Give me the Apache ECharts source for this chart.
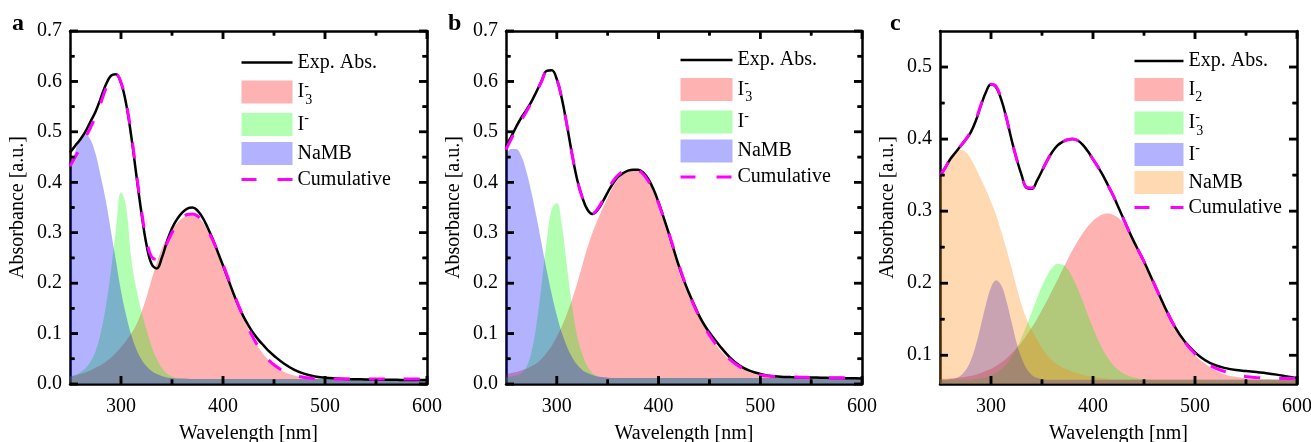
<!DOCTYPE html>
<html><head><meta charset="utf-8">
<script src="https://cdn.jsdelivr.net/npm/echarts@6/dist/echarts.min.js"></script>
<style>html,body{margin:0;padding:0;background:#fff}#chart{width:1311px;height:442px}</style>
</head><body><div id="chart"></div>
<script>
// ---------- data ----------
const wavelengths = [250,255,260,265,270,275,280,285,290,295,300,305,310,315,320,325,330,335,340,345,350,355,360,365,370,375,380,385,390,395,400,405,410,415,420,425,430,435,440,445,450,460,470,480,490,500,510,520,530,540,550,560,570,580,590,600];
const xTicks = [300,400,500,600];
const xMinorTicks = [350,450,550];
const yTicksAB = [0,0.1,0.2,0.3,0.4,0.5,0.6,0.7];
const yMinorTicksAB = [0.05,0.15,0.25,0.35,0.45,0.55,0.65];
const yTicksC = [0.1,0.2,0.3,0.4,0.5];
const yMinorTicksC = [0.15,0.25,0.35,0.45];
const panelLetters = ['a','b','c'];

// panel a
const aExp = [0.459,0.472,0.485,0.500,0.520,0.540,0.566,0.593,0.611,0.614,0.597,0.556,0.492,0.415,0.340,0.276,0.238,0.229,0.250,0.282,0.309,0.327,0.340,0.348,0.350,0.344,0.330,0.310,0.287,0.261,0.235,0.208,0.181,0.156,0.134,0.116,0.100,0.087,0.076,0.065,0.056,0.040,0.028,0.020,0.015,0.0125,0.011,0.010,0.0095,0.009,0.0088,0.0085,0.0083,0.008,0.008,0.008];
const aCum = [0.432,0.450,0.468,0.488,0.508,0.530,0.556,0.585,0.607,0.614,0.598,0.558,0.497,0.420,0.345,0.285,0.252,0.247,0.258,0.279,0.300,0.317,0.329,0.336,0.337,0.333,0.322,0.305,0.285,0.262,0.237,0.210,0.183,0.157,0.133,0.110,0.090,0.073,0.059,0.047,0.038,0.025,0.017,0.013,0.011,0.0105,0.010,0.010,0.010,0.010,0.010,0.010,0.010,0.010,0.010,0.010];
const aI3 = [0.015,0.017,0.020,0.023,0.027,0.032,0.037,0.044,0.052,0.062,0.073,0.086,0.100,0.118,0.142,0.172,0.207,0.240,0.268,0.290,0.307,0.319,0.328,0.334,0.336,0.332,0.321,0.304,0.284,0.261,0.236,0.209,0.182,0.156,0.132,0.109,0.089,0.072,0.058,0.046,0.037,0.024,0.017,0.013,0.011,0.0105,0.010,0.010,0.010,0.010,0.010,0.010,0.010,0.010,0.010,0.010];
const aI = [0.015,0.018,0.023,0.031,0.044,0.065,0.100,0.152,0.222,0.305,0.380,0.352,0.250,0.190,0.145,0.108,0.075,0.050,0.032,0.021,0.015,0.012,0.011,0.0105,0.010,0.010,0.010,0.010,0.010,0.010,0.010,0.010,0.010,0.010,0.010,0.010,0.010,0.010,0.010,0.010,0.010,0.010,0.010,0.010,0.010,0.010,0.010,0.010,0.010,0.010,0.010,0.010,0.010,0.010,0.010,0.010];
const aNaMB = [0.420,0.460,0.487,0.495,0.485,0.457,0.413,0.365,0.305,0.245,0.185,0.137,0.098,0.069,0.049,0.035,0.026,0.020,0.016,0.013,0.012,0.011,0.011,0.0105,0.010,0.010,0.010,0.010,0.010,0.010,0.010,0.010,0.010,0.010,0.010,0.010,0.010,0.010,0.010,0.010,0.010,0.010,0.010,0.010,0.010,0.010,0.010,0.010,0.010,0.010,0.010,0.010,0.010,0.010,0.010,0.010];

// panel b
const bExp = [0.472,0.490,0.510,0.528,0.543,0.560,0.580,0.601,0.621,0.622,0.604,0.565,0.512,0.455,0.405,0.370,0.346,0.337,0.345,0.361,0.380,0.397,0.410,0.418,0.423,0.425,0.425,0.419,0.406,0.386,0.360,0.330,0.299,0.266,0.234,0.205,0.180,0.157,0.135,0.117,0.102,0.076,0.053,0.036,0.026,0.020,0.016,0.0145,0.0138,0.0133,0.013,0.0125,0.012,0.0117,0.0113,0.011];
const bCum = [0.465,0.485,0.505,0.523,0.540,0.558,0.578,0.600,0.620,0.621,0.604,0.565,0.512,0.455,0.405,0.370,0.346,0.338,0.347,0.364,0.385,0.402,0.414,0.422,0.426,0.427,0.424,0.416,0.402,0.383,0.358,0.330,0.300,0.268,0.236,0.206,0.179,0.155,0.133,0.114,0.097,0.070,0.049,0.034,0.024,0.018,0.0155,0.0145,0.014,0.0135,0.013,0.013,0.0125,0.0122,0.012,0.012];
const bI3 = [0.020,0.022,0.024,0.027,0.030,0.035,0.041,0.050,0.062,0.076,0.094,0.115,0.140,0.168,0.200,0.235,0.270,0.300,0.325,0.348,0.370,0.390,0.405,0.416,0.423,0.426,0.423,0.414,0.400,0.381,0.357,0.329,0.299,0.267,0.235,0.205,0.178,0.154,0.132,0.113,0.096,0.069,0.048,0.033,0.023,0.018,0.015,0.0135,0.013,0.013,0.0125,0.0125,0.012,0.012,0.012,0.012];
const bI = [0.014,0.015,0.017,0.021,0.033,0.063,0.119,0.198,0.284,0.347,0.359,0.314,0.233,0.155,0.095,0.060,0.035,0.022,0.016,0.013,0.012,0.012,0.012,0.012,0.012,0.012,0.012,0.012,0.012,0.012,0.012,0.012,0.012,0.012,0.012,0.012,0.012,0.012,0.012,0.012,0.012,0.012,0.012,0.012,0.012,0.012,0.012,0.012,0.012,0.012,0.012,0.012,0.012,0.012,0.012,0.012];
const bNaMB = [0.455,0.466,0.466,0.452,0.422,0.380,0.331,0.278,0.226,0.178,0.136,0.101,0.074,0.053,0.038,0.028,0.022,0.018,0.015,0.014,0.013,0.012,0.012,0.012,0.012,0.012,0.012,0.012,0.012,0.012,0.012,0.012,0.012,0.012,0.012,0.012,0.012,0.012,0.012,0.012,0.012,0.012,0.012,0.012,0.012,0.012,0.012,0.012,0.012,0.012,0.012,0.012,0.012,0.012,0.012,0.012];

// panel c
const cExp = [0.349,0.360,0.372,0.381,0.390,0.399,0.409,0.425,0.446,0.465,0.476,0.472,0.455,0.430,0.400,0.373,0.350,0.332,0.331,0.342,0.356,0.370,0.382,0.391,0.396,0.399,0.400,0.398,0.392,0.383,0.372,0.361,0.349,0.335,0.321,0.305,0.289,0.273,0.258,0.244,0.230,0.199,0.168,0.140,0.119,0.104,0.093,0.086,0.082,0.0795,0.078,0.0765,0.075,0.073,0.0705,0.068];
const cCum = [0.349,0.360,0.372,0.381,0.390,0.399,0.410,0.426,0.447,0.466,0.476,0.473,0.456,0.430,0.400,0.373,0.350,0.333,0.332,0.342,0.356,0.370,0.382,0.391,0.396,0.399,0.400,0.398,0.392,0.383,0.372,0.361,0.349,0.335,0.321,0.305,0.289,0.273,0.258,0.244,0.230,0.199,0.168,0.140,0.118,0.102,0.090,0.082,0.077,0.073,0.0705,0.069,0.068,0.0675,0.0675,0.068];
const cI2 = [0.067,0.0672,0.0675,0.068,0.069,0.070,0.0713,0.073,0.0751,0.078,0.081,0.085,0.0897,0.0955,0.102,0.1095,0.118,0.128,0.1386,0.150,0.163,0.176,0.190,0.204,0.2186,0.2326,0.246,0.2583,0.2694,0.279,0.2866,0.292,0.2956,0.2965,0.2947,0.2903,0.283,0.272,0.259,0.245,0.230,0.199,0.169,0.141,0.118,0.100,0.088,0.079,0.073,0.070,0.068,0.067,0.0665,0.066,0.066,0.066];
const cI3 = [0.066,0.066,0.066,0.066,0.066,0.066,0.066,0.0672,0.068,0.0695,0.0718,0.0754,0.0806,0.0878,0.0974,0.1097,0.1245,0.1415,0.160,0.1785,0.196,0.2107,0.2212,0.2265,0.226,0.2196,0.208,0.1927,0.175,0.156,0.138,0.1214,0.107,0.0953,0.0862,0.0794,0.0745,0.0713,0.0691,0.0678,0.067,0.066,0.066,0.066,0.066,0.066,0.066,0.066,0.066,0.066,0.066,0.066,0.066,0.066,0.066,0.066];
const cI = [0.066,0.066,0.067,0.068,0.0715,0.079,0.092,0.113,0.141,0.170,0.194,0.204,0.197,0.176,0.147,0.118,0.096,0.081,0.0726,0.0686,0.067,0.066,0.066,0.066,0.066,0.066,0.066,0.066,0.066,0.066,0.066,0.066,0.066,0.066,0.066,0.066,0.066,0.066,0.066,0.066,0.066,0.066,0.066,0.066,0.066,0.066,0.066,0.066,0.066,0.066,0.066,0.066,0.066,0.066,0.066,0.066];
const cNaMB = [0.348,0.362,0.375,0.383,0.385,0.382,0.373,0.360,0.345,0.330,0.313,0.295,0.272,0.248,0.222,0.195,0.170,0.150,0.135,0.122,0.110,0.100,0.093,0.087,0.083,0.080,0.077,0.075,0.073,0.071,0.070,0.069,0.068,0.067,0.066,0.066,0.066,0.066,0.066,0.066,0.066,0.066,0.066,0.066,0.066,0.066,0.066,0.066,0.066,0.066,0.066,0.066,0.066,0.066,0.066,0.066];

// ---------- styling ----------
const FONT = 'Liberation Serif';
const RED = 'rgba(255,0,0,0.3)', GREEN = 'rgba(0,255,0,0.3)', BLUE = 'rgba(0,0,255,0.3)', ORANGE = 'rgba(255,128,0,0.3)';
const MAJOR_LEN = 8, MINOR_LEN = 4.5, TICK_W = 2.5;
const legendText = {
  exp: 'Exp. Abs.', I3m: 'I{sup|-}{sub|3}', Im: 'I{sup|-}', I2: 'I{sub|2}', namb: 'NaMB', cum: 'Cumulative'
};

const panels = [
  { key:'a', grid:{left:70, top:31, width:357, height:353}, yMin:0, yMax:0.7, yTicks:yTicksAB, yMinor:yMinorTicksAB,
    legend:{left:240, top:52.5, itemWidth:51, itemGap:4.5},
    fills:[['I3m', aI3, RED], ['Im', aI, GREEN], ['namb', aNaMB, BLUE]], exp:aExp, cum:aCum },
  { key:'b', grid:{left:506, top:31, width:356, height:353}, yMin:0, yMax:0.7, yTicks:yTicksAB, yMinor:yMinorTicksAB,
    legend:{left:679, top:50, itemWidth:52, itemGap:4.5},
    fills:[['I3m', bI3, RED], ['Im', bI, GREEN], ['namb', bNaMB, BLUE]], exp:bExp, cum:bCum },
  { key:'c', grid:{left:940, top:31, width:357, height:353}, yMin:0.06, yMax:0.55, yTicks:yTicksC, yMinor:yMinorTicksC,
    legend:{left:1133, top:51, itemWidth:49, itemGap:3.5},
    fills:[['I2', cI2, RED], ['I3m', cI3, GREEN], ['Im', cI, BLUE], ['namb', cNaMB, ORANGE]], exp:cExp, cum:cCum }
];

const grid = [], xAxis = [], yAxis = [], series = [], legend = [];
const axisLineStyle = () => ({show:true, onZero:false, lineStyle:{color:'#000', width:2.5}});
const labelStyle = () => ({fontFamily:FONT, fontSize:20, color:'#000'});

function renderTicks(params, api) {
  const kind = api.value(2);
  const pt = api.coord([api.value(0), api.value(1)]);
  const cs = params.coordSys;
  const len = (kind === 0 || kind === 2) ? MAJOR_LEN : MINOR_LEN;
  const mk = (x, y, w, h) => ({type:'rect', shape:{x, y, width:w, height:h}, style:{fill:'#000'}});
  if (kind < 2) {
    const x = pt[0];
    return {type:'group', children:[mk(x - TICK_W/2, cs.y + cs.height - len, TICK_W, len), mk(x - TICK_W/2, cs.y, TICK_W, len)]};
  }
  const y = pt[1];
  return {type:'group', children:[mk(cs.x, y - TICK_W/2, len, TICK_W), mk(cs.x + cs.width - len, y - TICK_W/2, len, TICK_W)]};
}

panels.forEach((p, gi) => {
  grid.push(Object.assign({containLabel:false, outerBoundsMode:'none'}, p.grid));
  const xc = () => ({type:'value', gridIndex:gi, min:250, max:600, splitLine:{show:false},
    axisLine:axisLineStyle(), axisTick:{show:false}, minorTick:{show:false}});
  xAxis.push(Object.assign(xc(), {position:'bottom', name:'Wavelength [nm]', nameLocation:'middle', nameGap:40,
    nameTextStyle:labelStyle(),
    axisLabel:Object.assign({show:true, margin:13, customValues:xTicks, formatter:v=>String(v)}, labelStyle())}));
  xAxis.push(Object.assign(xc(), {position:'top', axisLabel:{show:false}}));

  const yc = () => ({type:'value', gridIndex:gi, min:p.yMin, max:p.yMax, splitLine:{show:false},
    axisLine:axisLineStyle(), axisTick:{show:false}, minorTick:{show:false}});
  yAxis.push(Object.assign(yc(), {position:'left', name:'Absorbance [a.u.]', nameLocation:'middle', nameGap:42,
    nameTextStyle:labelStyle(),
    axisLabel:Object.assign({show:true, margin:8, customValues:p.yTicks, formatter:v=>v.toFixed(1)}, labelStyle())}));
  yAxis.push(Object.assign(yc(), {position:'right', axisLabel:{show:false}}));

  const toPairs = arr => wavelengths.map((w, i) => [w, arr[i]]);
  const legendData = [];
  const expName = p.key + '_exp', cumName = p.key + '_cum';
  legendData.push({name:expName, itemStyle:{color:'rgba(0,0,0,0)', borderWidth:0, opacity:0},
    lineStyle:{color:'#000', width:2.5, type:'solid'}});
  p.fills.forEach(([k, arr, col]) => {
    const nm = p.key + '_' + k;
    series.push({type:'line', name:nm, xAxisIndex:gi*2, yAxisIndex:gi*2, data:toPairs(arr),
      symbol:'none', showSymbol:false, smooth:0.4, silent:true, animation:false,
      itemStyle:{color:col}, lineStyle:{width:0, opacity:0}, areaStyle:{color:col, opacity:1}});
    legendData.push({name:nm, icon:'rect', itemStyle:{color:col, borderWidth:0}});
  });
  series.push({type:'line', name:expName, xAxisIndex:gi*2, yAxisIndex:gi*2, data:toPairs(p.exp),
    symbol:'none', showSymbol:false, smooth:0.4, silent:true, animation:false,
    itemStyle:{color:'#000'}, lineStyle:{color:'#000', width:2.5}});
  series.push({type:'line', name:cumName, xAxisIndex:gi*2, yAxisIndex:gi*2, data:toPairs(p.cum),
    symbol:'none', showSymbol:false, smooth:0.4, silent:true, animation:false,
    itemStyle:{color:'#FF00FF'}, lineStyle:{color:'#FF00FF', width:3, type:[16,19]}});
  legendData.push({name:cumName, itemStyle:{color:'rgba(0,0,0,0)', borderWidth:0, opacity:0},
    lineStyle:{color:'#FF00FF', width:3, type:[15,21]}});

  // inward tick marks drawn through the cartesian coordinate system
  const tickData = [];
  xTicks.forEach(v => tickData.push([v, p.yMin, 0]));
  xMinorTicks.forEach(v => tickData.push([v, p.yMin, 1]));
  p.yTicks.forEach(v => tickData.push([250, v, 2]));
  p.yMinor.forEach(v => tickData.push([250, v, 3]));
  series.push({type:'custom', name:p.key + '_ticks', xAxisIndex:gi*2, yAxisIndex:gi*2, data:tickData,
    dimensions:['x','y','kind'], renderItem:renderTicks, silent:true, animation:false, z:5, clip:false,
    encode:{x:0, y:1}});

  legend.push({orient:'vertical', left:p.legend.left, top:p.legend.top, padding:0,
    itemWidth:p.legend.itemWidth, itemHeight:23, itemGap:p.legend.itemGap, selectedMode:false,
    data:legendData,
    formatter: name => legendText[name.split('_')[1]],
    textStyle:{fontFamily:FONT, fontSize:20, color:'#000',
      rich:{
        sub:{fontFamily:FONT, fontSize:14, color:'#000', lineHeight:13, verticalAlign:'middle', padding:[16,0,0,0]},
        sup:{fontFamily:FONT, fontSize:14, color:'#000', lineHeight:13, verticalAlign:'middle', padding:[0,0,12,0], width:1}
      }}});
});

const letterEls = panelLetters.map((t, i) => ({type:'text', x:[12,448,890][i], y:24, silent:true, z:100,
  style:{text:t, fontFamily:FONT, fontSize:24, fontWeight:'bold', fill:'#000', align:'left', verticalAlign:'middle'}}));

const chart = echarts.init(document.getElementById('chart'), null, {renderer:'canvas'});
chart.setOption({animation:false, backgroundColor:'#fff', grid, xAxis, yAxis, series, legend, graphic:letterEls});

// additional tick layer in the graphic component, positioned with the axes' own scale conversion
const tickEls = [];
const tickRect = (x, y, w, h) => ({type:'rect', silent:true, z:100, shape:{x, y, width:w, height:h}, style:{fill:'#000'}});
panels.forEach((p, gi) => {
  const g = p.grid;
  const toX = v => {
    const r = chart.convertToPixel({xAxisIndex:gi*2}, v);
    return Number.isFinite(r) ? r : g.left + (v - 250) / 350 * g.width;
  };
  const toY = v => {
    const r = chart.convertToPixel({yAxisIndex:gi*2}, v);
    return Number.isFinite(r) ? r : g.top + g.height - (v - p.yMin) / (p.yMax - p.yMin) * g.height;
  };
  const left = toX(250), right = toX(600), bottom = toY(p.yMin), top = toY(p.yMax);
  const addX = (v, len) => {
    const px = toX(v);
    tickEls.push(tickRect(px - TICK_W/2, bottom - len, TICK_W, len));
    tickEls.push(tickRect(px - TICK_W/2, top, TICK_W, len));
  };
  const addY = (v, len) => {
    const py = toY(v);
    tickEls.push(tickRect(left, py - TICK_W/2, len, TICK_W));
    tickEls.push(tickRect(right - len, py - TICK_W/2, len, TICK_W));
  };
  xTicks.forEach(v => addX(v, MAJOR_LEN));
  xMinorTicks.forEach(v => addX(v, MINOR_LEN));
  p.yTicks.forEach(v => addY(v, MAJOR_LEN));
  p.yMinor.forEach(v => addY(v, MINOR_LEN));
});
chart.setOption({graphic: letterEls.concat(tickEls)});
</script>
</body></html>
